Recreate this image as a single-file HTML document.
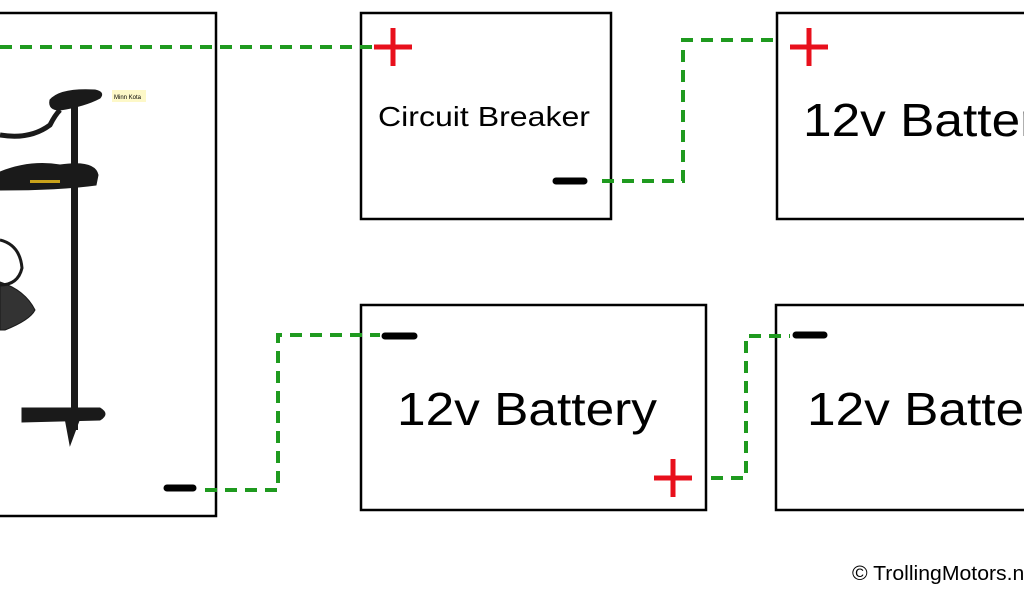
<!DOCTYPE html>
<html><head><meta charset="utf-8"><style>
html,body{margin:0;padding:0;background:#fff;width:1024px;height:600px;overflow:hidden}
svg{display:block}
text{font-family:"Liberation Sans","DejaVu Sans",sans-serif;fill:#000}
</style></head><body>
<svg width="1024" height="600" viewBox="0 0 1024 600">
<rect width="1024" height="600" fill="#fff"/>
<g fill="none" stroke="#000" stroke-width="2.5">
<rect x="-5" y="13" width="221" height="503"/>
<rect x="361" y="13" width="250" height="206"/>
<rect x="777" y="13" width="260" height="206"/>
<rect x="361" y="305" width="345" height="205"/>
<rect x="776" y="305" width="260" height="205"/>
</g>
<g fill="none" stroke="#1f9a1f" stroke-width="4" stroke-dasharray="12,8">
<path d="M0 47 H372"/>
<path d="M602 181 H683 V40 H778"/>
<path d="M205 490 H278 V335 H380"/>
<path d="M711 478 H746 V336 H790"/>
</g>
<g stroke="#e8101c" stroke-width="5">
<path d="M374 47 H412 M393 28 V66"/>
<path d="M790 47 H828 M809 28 V66"/>
<path d="M654 478 H692 M673 459 V497"/>
</g>
<g stroke="#000" stroke-width="7" stroke-linecap="round">
<path d="M556 181 H584"/>
<path d="M167 488 H193"/>
<path d="M385 336 H414"/>
<path d="M796 335 H824"/>
</g>
<text x="378" y="126" font-size="28" textLength="212" lengthAdjust="spacingAndGlyphs">Circuit Breaker</text>
<text x="803" y="136" font-size="46" textLength="260" lengthAdjust="spacingAndGlyphs">12v Battery</text>
<text x="397" y="425" font-size="46" textLength="260" lengthAdjust="spacingAndGlyphs">12v Battery</text>
<text x="807" y="425" font-size="46" textLength="260" lengthAdjust="spacingAndGlyphs">12v Battery</text>
<text x="852" y="580" font-size="20" textLength="190" lengthAdjust="spacingAndGlyphs">© TrollingMotors.net</text>
<g fill="#1a1a1a" stroke="#1a1a1a">
<path d="M50 100 Q60 88 95 90 Q105 92 100 98 Q85 106 60 110 Q48 110 50 100Z"/>
<rect x="71" y="100" width="7" height="330" stroke="none"/>
<path d="M0 172 Q30 160 60 165 Q95 160 98 175 L96 185 Q60 190 0 190Z"/>
<path d="M22 408 L100 408 Q110 414 100 420 L22 422Z"/>
<path d="M65 418 L80 418 L70 445 Z"/>
<path d="M0 282 Q25 290 35 310 Q30 320 5 330 L0 330Z" fill="#333"/>
<path d="M0 135 Q30 140 50 125 Q55 115 60 110" fill="none" stroke-width="5"/>
<path d="M0 240 Q20 245 22 268 Q18 285 0 285" fill="none" stroke-width="3"/>
</g>
<rect x="30" y="180" width="30" height="3" fill="#c9a21a"/>
<rect x="112" y="90" width="34" height="12" fill="#fdf8c8"/>
<text x="114" y="99" font-size="6">Minn Kota</text>
</svg>
</body></html>
